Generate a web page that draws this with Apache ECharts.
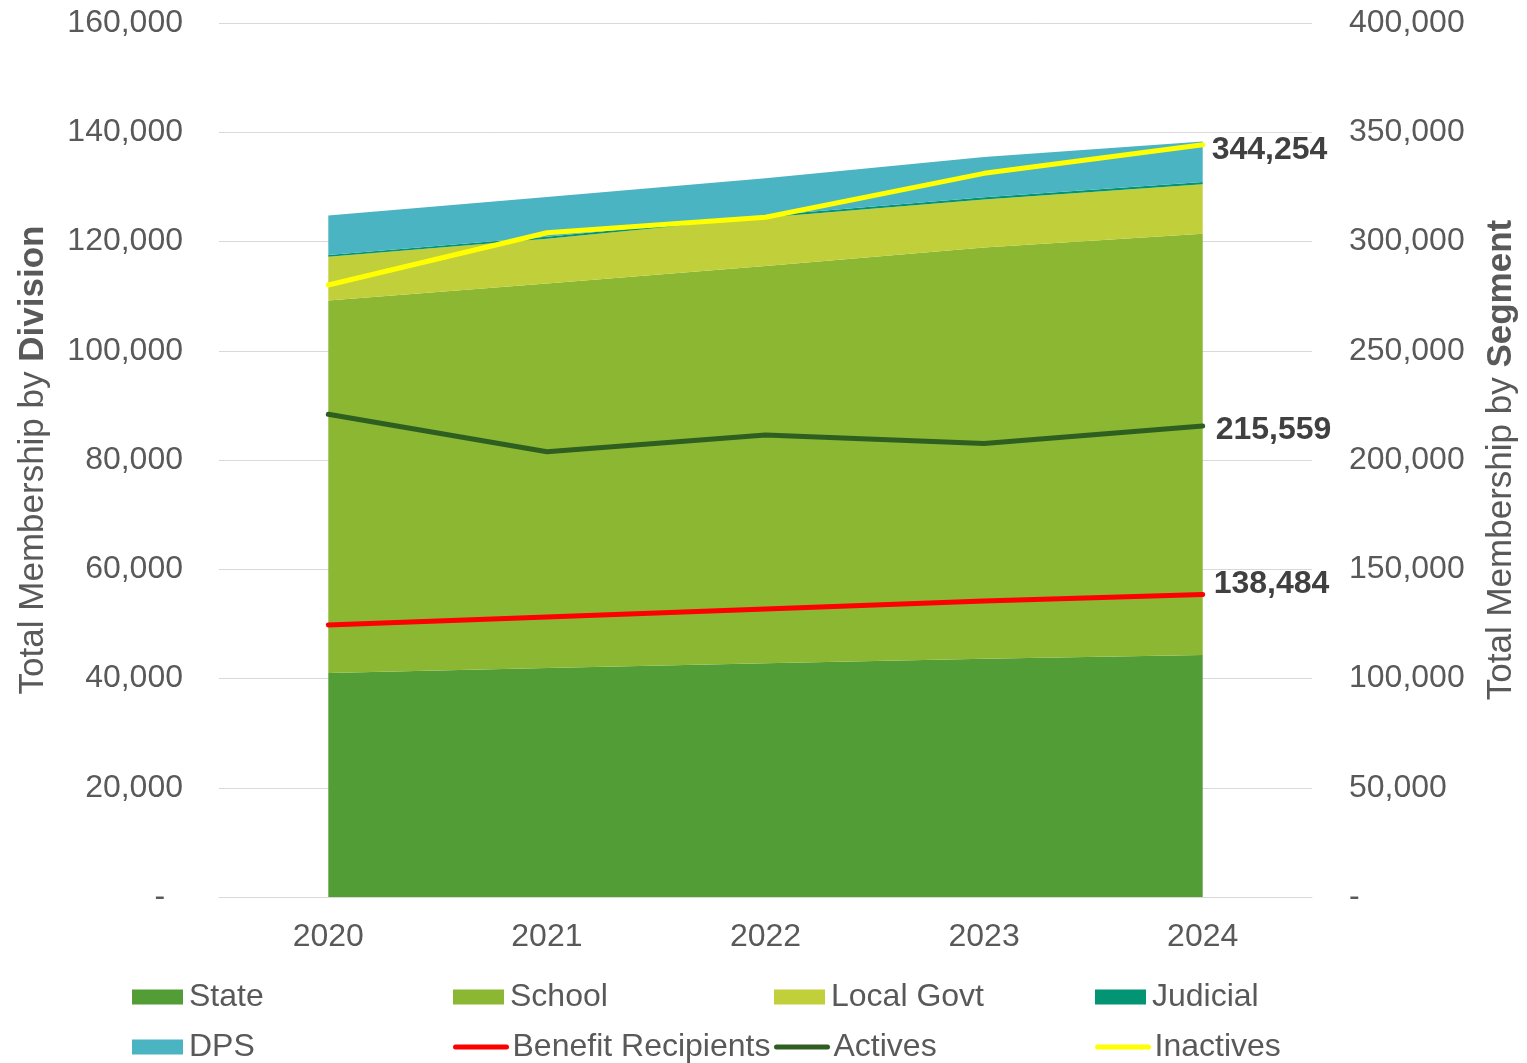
<!DOCTYPE html>
<html>
<head>
<meta charset="utf-8">
<script src="https://cdn.jsdelivr.net/npm/echarts@6/dist/echarts.min.js"></script>
<style>
html,body{margin:0;padding:0;background:#fff;}
#chart{width:1527px;height:1063px;}
</style>
</head>
<body>
<div id="chart"></div>
<script>
const years = ['2020', '2021', '2022', '2023', '2024'];

const stateVals = [41000, 41900, 42800, 43600, 44300];
const schoolVals = [68200, 70400, 72700, 75300, 77100];
const localGovtVals = [8000, 8200, 8900, 8800, 9100];
const judicialVals = [350, 360, 370, 380, 390];
const dpsVals = [7200, 7300, 6800, 7400, 7400];

const benefitVals = [124500, 128100, 131800, 135500, 138484];
const activesVals = [220900, 203800, 211400, 207600, 215559];
const inactivesVals = [280100, 304000, 311100, 331200, 344254];

const FONT = '"Liberation Sans", Arial, sans-serif';
const TXT = '#595959';

const chart = echarts.init(document.getElementById('chart'));

function areaSeries(name, vals, color) {
  return {
    name: name, type: 'line', stack: 'div', yAxisIndex: 0,
    data: vals, symbol: 'none', showSymbol: false,
    lineStyle: { width: 0 },
    itemStyle: { color: color },
    areaStyle: { color: color, opacity: 1 },
    z: 2
  };
}
function lineSeries(name, vals, color, offset) {
  return {
    name: name, type: 'line', yAxisIndex: 1,
    data: vals,
    symbol: 'none', showSymbol: false,
    lineStyle: { width: 5, color: color, cap: 'round', join: 'round' },
    itemStyle: { color: color },
    endLabel: {
      show: true, distance: 9, offset: offset,
      fontFamily: FONT, fontSize: 32, fontWeight: 'bold', color: '#404040',
      formatter: p => Number(p.value).toLocaleString('en-US')
    },
    z: 5
  };
}

const legendDefs = [
  ['State', 132, 981, 'rect'],
  ['School', 453, 981, 'rect'],
  ['Local Govt', 774, 981, 'rect'],
  ['Judicial', 1095, 981, 'rect'],
  ['DPS', 132, 1031, 'rect'],
  ['Benefit Recipients', 453, 1031, null],
  ['Actives', 774, 1031, null],
  ['Inactives', 1095, 1031, null]
];

const legends = legendDefs.map(d => {
  const l = {
    data: [d[3] ? { name: d[0], icon: d[3] } : { name: d[0] }],
    left: d[1], top: d[2],
    itemWidth: 51, itemHeight: 15,
    padding: 0,
    textStyle: { fontFamily: FONT, fontSize: 32, color: TXT, padding: [0, 0, 0, 1] },
    selectedMode: false
  };
  if (!d[3]) {
    l.itemStyle = { opacity: 0 };
    l.lineStyle = { width: 5 };
  }
  return l;
});

const titleRich = {
  a: { fontFamily: FONT, fontSize: 35, color: TXT },
  b: { fontFamily: FONT, fontSize: 35, color: TXT, fontWeight: 'bold' }
};

const option = {
  backgroundColor: '#ffffff',
  animation: false,
  legend: legends,
  grid: { left: 219, right: 214, top: 23, bottom: 166, containLabel: false },
  xAxis: {
    type: 'category', data: years, boundaryGap: true,
    axisLine: { show: true, lineStyle: { color: '#D9D9D9', width: 1 } },
    axisTick: { show: false },
    axisLabel: { fontFamily: FONT, fontSize: 32, color: TXT, margin: 24 }
  },
  yAxis: [
    {
      type: 'value', min: 0, max: 160000, interval: 20000, position: 'left',
      name: '{a|Total Membership by }{b|Division}',
      nameLocation: 'middle', nameGap: 168, nameRotate: 90,
      nameTextStyle: { rich: titleRich },
      axisLine: { show: false }, axisTick: { show: false },
      splitLine: { show: true, lineStyle: { color: '#D9D9D9', width: 1 } },
      axisLabel: {
        fontFamily: FONT, fontSize: 32, color: TXT, margin: 36, padding: [8, 0, 0, 0],
        formatter: v => v === 0 ? '-  ' : v.toLocaleString('en-US')
      }
    },
    {
      type: 'value', min: 0, max: 400000, interval: 50000, position: 'right',
      name: '{a|Total Membership by }{b|Segment}',
      nameLocation: 'middle', nameGap: 172, nameRotate: 90,
      nameTextStyle: { rich: titleRich },
      axisLine: { show: false }, axisTick: { show: false },
      splitLine: { show: false },
      axisLabel: {
        fontFamily: FONT, fontSize: 32, color: TXT, margin: 37, padding: [8, 0, 0, 0],
        formatter: v => v === 0 ? '-' : v.toLocaleString('en-US')
      }
    }
  ],
  series: [
    areaSeries('State', stateVals, '#539D37'),
    areaSeries('School', schoolVals, '#8BB733'),
    areaSeries('Local Govt', localGovtVals, '#C0CF3A'),
    areaSeries('Judicial', judicialVals, '#039474'),
    areaSeries('DPS', dpsVals, '#4BB4C3'),
    lineSeries('Benefit Recipients', benefitVals, '#FF0000', [2, -10]),
    lineSeries('Actives', activesVals, '#2F5F20', [4, 4]),
    lineSeries('Inactives', inactivesVals, '#FFFF00', [0, 5])
  ]
};

chart.setOption(option);
</script>
</body>
</html>
